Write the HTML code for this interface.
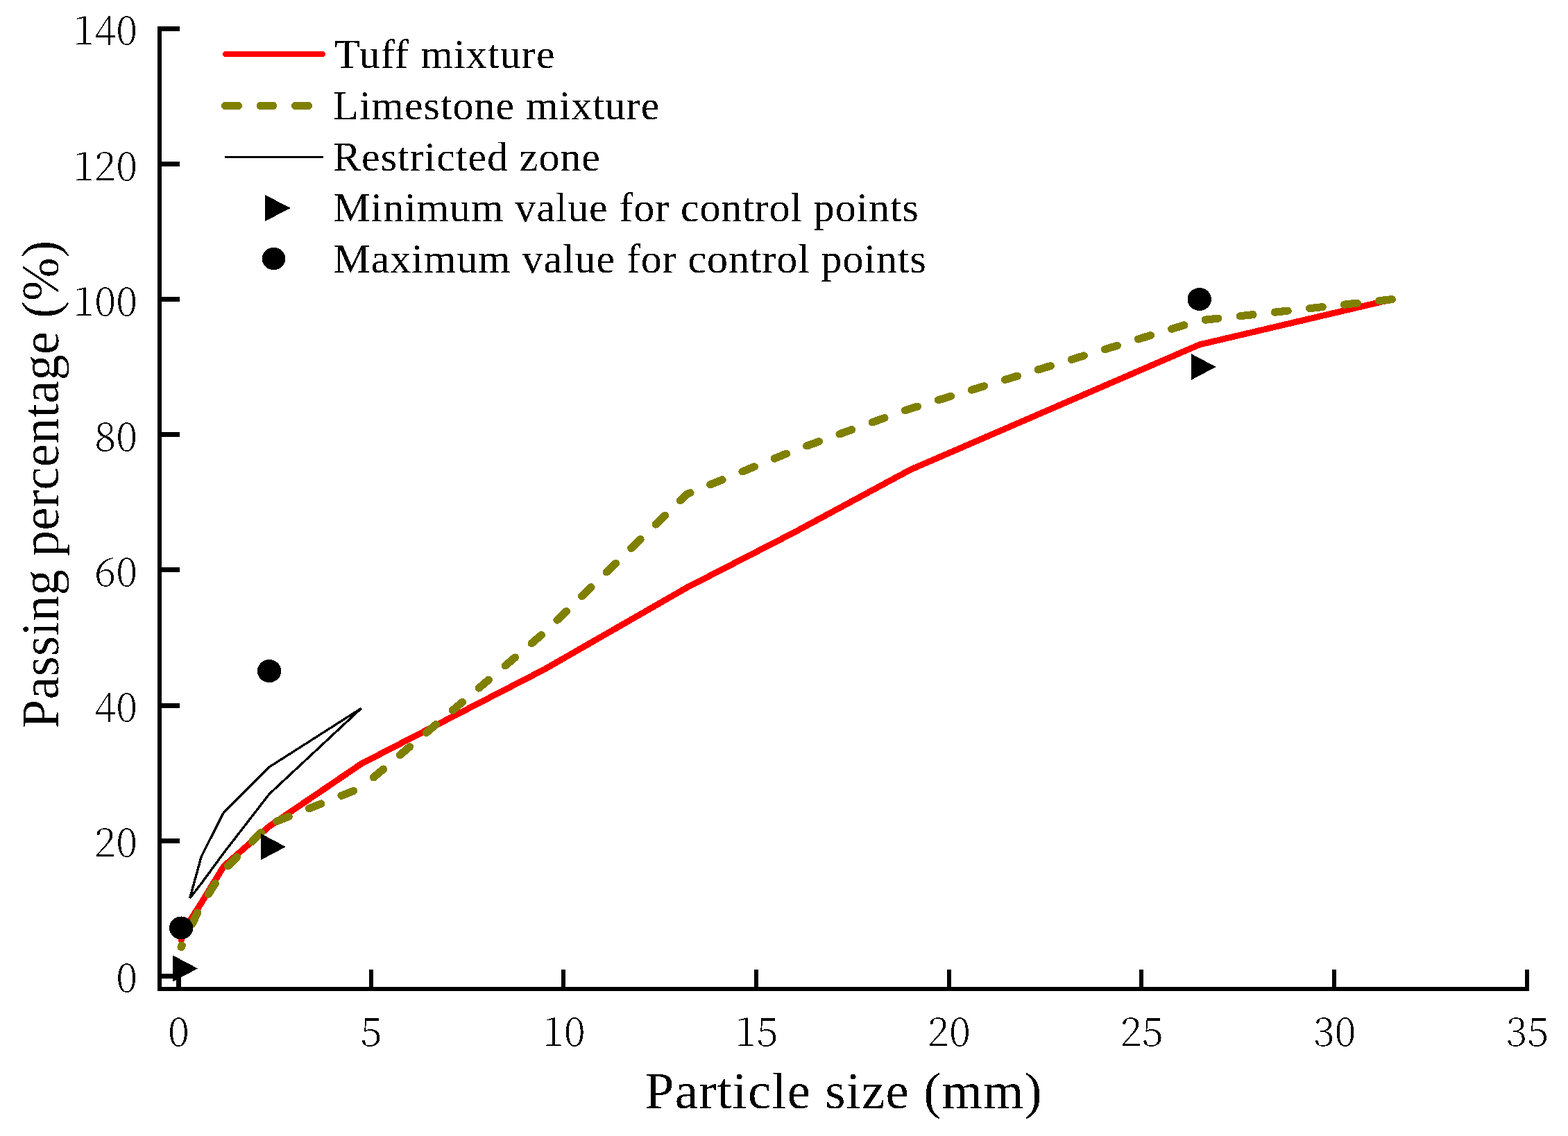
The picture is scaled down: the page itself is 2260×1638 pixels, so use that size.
<!DOCTYPE html>
<html lang="en">
<head>
<meta charset="utf-8">
<title>Passing percentage vs particle size</title>
<style>
html,body{margin:0;padding:0;background:#fff;}
body{width:2260px;height:1638px;overflow:hidden;}
svg{display:block;}
.lab{font-family:"Liberation Serif",serif;fill:#000;}
.tk{font-family:"Noto Serif CJK SC","Liberation Serif",serif;font-weight:300;fill:#000;}
</style>
</head>
<body>
<svg width="2260" height="1638" viewBox="0 0 2260 1638">
<defs><filter id="bw" filterUnits="userSpaceOnUse" x="0" y="0" width="2260" height="1638" color-interpolation-filters="sRGB"><feComponentTransfer><feFuncA type="discrete" tableValues="0 0 0 1 1"/></feComponentTransfer></filter><filter id="bw2" filterUnits="userSpaceOnUse" x="0" y="0" width="2260" height="1638" color-interpolation-filters="sRGB"><feComponentTransfer><feFuncA type="discrete" tableValues="0 1"/></feComponentTransfer></filter></defs>
<rect x="0" y="0" width="2260" height="1638" fill="#fff"/>
<g fill="#000" shape-rendering="crispEdges">
<rect x="227" y="38" width="6" height="1391"/>
<rect x="227" y="1423" width="1977" height="6"/>
<rect x="227" y="1404" width="32" height="6.6"/>
<rect x="227" y="1209" width="32" height="6.6"/>
<rect x="227" y="1014" width="32" height="6.6"/>
<rect x="227" y="818" width="32" height="6.6"/>
<rect x="227" y="623" width="32" height="6.6"/>
<rect x="227" y="428" width="32" height="6.6"/>
<rect x="227" y="233" width="32" height="6.6"/>
<rect x="227" y="38" width="32" height="6.6"/>
<rect x="254" y="1398" width="7" height="28"/>
<rect x="532" y="1398" width="6" height="28"/>
<rect x="809" y="1398" width="6" height="28"/>
<rect x="1087" y="1398" width="6" height="28"/>
<rect x="1365" y="1398" width="6" height="28"/>
<rect x="1642" y="1398" width="6" height="28"/>
<rect x="1920" y="1398" width="6" height="28"/>
<rect x="2198" y="1398" width="6" height="28"/>
</g>
<g filter="url(#bw)">
<g class="tk" font-size="57">
<text x="198" y="1430.1" text-anchor="end">0</text>
<text x="198" y="1235.0" text-anchor="end">20</text>
<text x="198" y="1039.9" text-anchor="end">40</text>
<text x="198" y="844.8" text-anchor="end">60</text>
<text x="198" y="649.7" text-anchor="end">80</text>
<text x="198" y="454.6" text-anchor="end">100</text>
<text x="198" y="259.5" text-anchor="end">120</text>
<text x="198" y="64.4" text-anchor="end">140</text>
<text x="257.3" y="1507.8" text-anchor="middle">0</text>
<text x="535.0" y="1507.8" text-anchor="middle">5</text>
<text x="812.7" y="1507.8" text-anchor="middle">10</text>
<text x="1090.4" y="1507.8" text-anchor="middle">15</text>
<text x="1368.1" y="1507.8" text-anchor="middle">20</text>
<text x="1645.8" y="1507.8" text-anchor="middle">25</text>
<text x="1923.5" y="1507.8" text-anchor="middle">30</text>
<text x="2201.2" y="1507.8" text-anchor="middle">35</text>
</g>
<text class="lab" font-size="75" transform="translate(83.7,1050.4) scale(1.0164,1) rotate(-90)">Passing percentage (%)</text>
</g>
<g filter="url(#bw2)">
<text class="lab" font-size="75" x="929.8" y="1597.7" textLength="571.9" lengthAdjust="spacing">Particle size (mm)</text>
<text class="lab" font-size="60" x="482.0" y="98.3" textLength="317.6" lengthAdjust="spacing">Tuff mixture</text>
<text class="lab" font-size="60" x="480.1" y="172.0" textLength="470.3" lengthAdjust="spacing">Limestone mixture</text>
<text class="lab" font-size="60" x="480.1" y="245.8" textLength="384.9" lengthAdjust="spacing">Restricted zone</text>
<text class="lab" font-size="60" x="480.4" y="319.2" textLength="843.4" lengthAdjust="spacing">Minimum value for control points</text>
<text class="lab" font-size="60" x="480.4" y="393.0" textLength="854.4" lengthAdjust="spacing">Maximum value for control points</text>
</g>
<g transform="scale(1.035,1)" fill="none" stroke-linejoin="round" shape-rendering="crispEdges">
<polyline points="264.41,1295.08 280.51,1234.65 311.63,1171.30 374.95,1105.99 503.20,1021.19 374.95,1144.98 311.63,1229.78 280.51,1273.64 264.41,1295.08" stroke="#000" stroke-width="3.3" stroke-linejoin="miter"/>
<polyline points="252.33,1355.40 256.36,1344.67 264.41,1328.08 280.51,1301.75 311.63,1249.07 374.95,1191.51 503.20,1101.28 758.10,965.20 956.65,847.16 1106.90,767.17 1267.88,677.23 1670.35,496.96 1938.66,431.60" stroke="#ff0000" stroke-width="8.9" stroke-linecap="round"/>
<g stroke="#808000" stroke-width="11.1" stroke-linecap="round">
<polyline points="252.33,1365.54 252.33,1365.54 253.34,1363.25"/>
<polyline points="267.47,1332.33 275.14,1316.05"/>
<polyline points="290.23,1289.12 299.78,1273.86"/>
<polyline points="317.42,1248.86 329.84,1235.84"/>
<polyline points="351.06,1213.62 363.49,1200.60"/>
<polyline points="385.42,1184.29 402.07,1177.45"/>
<polyline points="430.49,1165.78 447.14,1158.94"/>
<polyline points="475.55,1147.27 492.20,1140.43"/>
<polyline points="520.28,1120.91 533.81,1109.03"/>
<polyline points="556.93,1088.73 570.45,1076.85"/>
<polyline points="593.60,1056.51 607.12,1044.64"/>
<polyline points="630.28,1024.30 643.80,1012.42"/>
<polyline points="666.90,992.13 680.43,980.25"/>
<polyline points="703.66,959.85 717.18,947.97"/>
<polyline points="740.37,927.60 753.89,915.73"/>
<polyline points="775.91,894.14 788.60,881.38"/>
<polyline points="810.37,859.51 823.07,846.75"/>
<polyline points="844.80,824.92 857.50,812.16"/>
<polyline points="879.09,790.47 891.78,777.71"/>
<polyline points="913.30,756.10 926.00,743.34"/>
<polyline points="947.41,721.82 956.65,712.54 961.17,710.63"/>
<polyline points="989.16,698.82 1005.75,691.82"/>
<polyline points="1033.87,679.96 1050.45,672.96"/>
<polyline points="1078.50,661.12 1095.08,654.12"/>
<polyline points="1123.54,642.94 1140.40,636.65"/>
<polyline points="1169.21,625.92 1186.07,619.63"/>
<polyline points="1214.86,608.90 1231.73,602.62"/>
<polyline points="1260.46,591.91 1267.88,589.14 1277.49,586.11"/>
<polyline points="1306.81,576.86 1323.97,571.44"/>
<polyline points="1353.20,562.22 1370.36,556.80"/>
<polyline points="1399.52,547.60 1416.69,542.18"/>
<polyline points="1445.83,532.99 1463.00,527.57"/>
<polyline points="1492.18,518.36 1509.35,512.94"/>
<polyline points="1538.59,503.71 1555.75,498.30"/>
<polyline points="1585.11,489.03 1602.27,483.62"/>
<polyline points="1631.63,474.35 1648.79,468.94"/>
<polyline points="1678.49,461.21 1696.38,459.17"/>
<polyline points="1726.92,455.70 1744.80,453.66"/>
<polyline points="1775.35,450.18 1793.23,448.15"/>
<polyline points="1823.76,444.68 1841.64,442.64"/>
<polyline points="1872.15,439.17 1890.04,437.13"/>
<polyline points="1920.53,433.66 1938.42,431.63"/>
</g>
</g>
<g fill="#000" shape-rendering="crispEdges">
<polygon points="248.9,1377.4 285.1,1396.5 248.9,1415.6"/>
<polygon points="375.8,1201.9 412.0,1221.0 375.8,1240.1"/>
<polygon points="1716.5,509.9 1752.7,529.0 1716.5,548.1"/>
<ellipse cx="261.2" cy="1338.0" rx="17.2" ry="16.55"/>
<ellipse cx="388.1" cy="967.6" rx="17.2" ry="16.55"/>
<ellipse cx="1728.8" cy="431.5" rx="17.2" ry="16.55"/>
</g>
<g shape-rendering="crispEdges">
<line x1="324.9" y1="78" x2="465.1" y2="78" stroke="#ff0000" stroke-width="8.1" stroke-linecap="round"/>
<g fill="#808000"><rect x="318.9" y="146.9" width="30.2" height="11.1" rx="5.6" ry="5.55"/><rect x="369.6" y="146.9" width="29.8" height="11.1" rx="5.6" ry="5.55"/><rect x="420" y="146.9" width="30.1" height="11.1" rx="5.6" ry="5.55"/></g>
<line x1="324" y1="226.4" x2="466" y2="226.4" stroke="#000" stroke-width="3"/>
<g fill="#000"><polygon points="382,280.9 418.6,300 382,319.1"/><ellipse cx="394.5" cy="373.0" rx="16.8" ry="16.2"/></g>
</g>
</svg>
</body>
</html>
